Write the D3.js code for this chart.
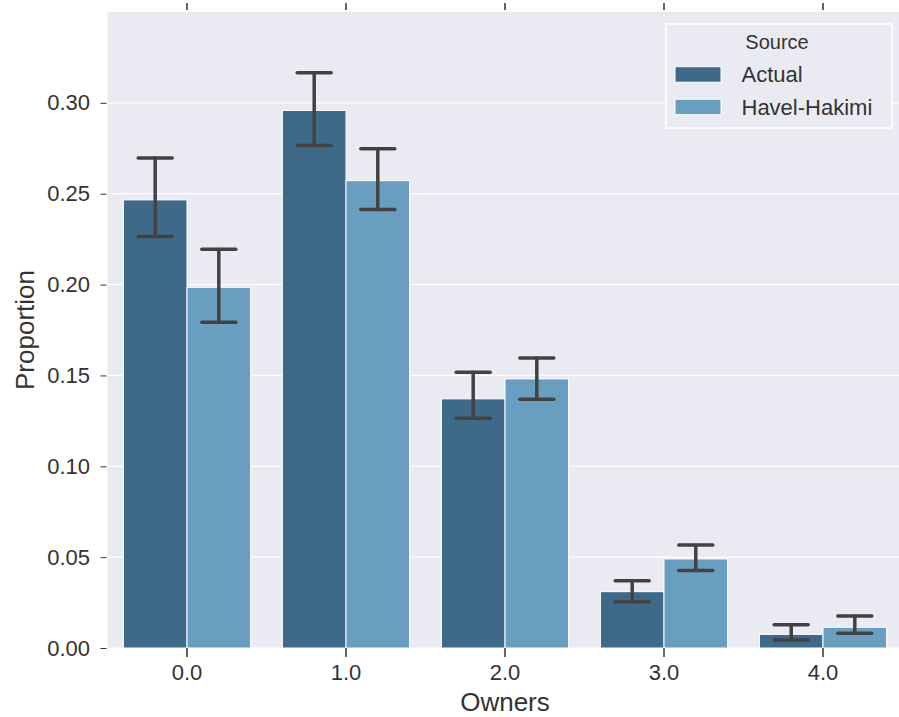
<!DOCTYPE html>
<html>
<head>
<meta charset="utf-8">
<script src="https://cdn.jsdelivr.net/npm/d3@7"></script>
<style>
  body { margin: 0; background: #fff; }
  text { font-family: "Liberation Sans", Arial, sans-serif; fill: #333; }
</style>
</head>
<body>
<svg id="chart" width="899" height="717"></svg>
<script>
// categories and series
var owners = ["0.0", "1.0", "2.0", "3.0", "4.0"];
var sources = ["Actual", "Havel-Hakimi"];
var actualVals = [0.2466, 0.2958, 0.1371, 0.0310, 0.0075];
var actualLo   = [0.2264, 0.2765, 0.1264, 0.0255, 0.0044];
var actualHi   = [0.2696, 0.3165, 0.1518, 0.0370, 0.0128];
var havelVals  = [0.1985, 0.2572, 0.1481, 0.0490, 0.0114];
var havelLo    = [0.1793, 0.2413, 0.1369, 0.0426, 0.0081];
var havelHi    = [0.2195, 0.2748, 0.1596, 0.0567, 0.0176];
var yTicks = [0, 0.05, 0.10, 0.15, 0.20, 0.25, 0.30];
var colors = ["#3f6988", "#6a9ec1"];

// margins so plot covers x 107..903, y 12..648
var margin = {top: 12, left: 107.5};
var plotW = 795, plotH = 636;

var svg = d3.select("#chart");
var g = svg.append("g").attr("transform", "translate(" + margin.left + "," + margin.top + ")");

var x = d3.scaleBand().domain(owners).range([0, plotW]).paddingInner(0.2).paddingOuter(0.1);
var xSub = d3.scaleBand().domain(sources).range([0, x.bandwidth()]);
var y = d3.scaleLinear().domain([0, 0.35]).range([plotH, 0]);

// background
g.append("rect").attr("width", plotW).attr("height", plotH).attr("fill", "#eaeaf2");

// horizontal grid
g.selectAll(".grid").data(yTicks).enter().append("line")
    .attr("x1", 0).attr("x2", plotW)
    .attr("y1", function(d) { return y(d); }).attr("y2", function(d) { return y(d); })
    .attr("stroke", "#fff").attr("stroke-width", 1.2);

// build rows for bars
var rows = [];
owners.forEach(function(o, i) {
    rows.push({owner: o, src: "Actual", v: actualVals[i], lo: actualLo[i], hi: actualHi[i], c: colors[0]});
    rows.push({owner: o, src: "Havel-Hakimi", v: havelVals[i], lo: havelLo[i], hi: havelHi[i], c: colors[1]});
});

g.selectAll(".bar").data(rows).enter().append("rect")
    .attr("x", function(d) { return x(d.owner) + xSub(d.src); })
    .attr("y", function(d) { return y(d.v); })
    .attr("width", xSub.bandwidth())
    .attr("height", function(d) { return plotH - y(d.v); })
    .attr("fill", function(d) { return d.c; })
    .attr("stroke", "#fff").attr("stroke-width", 1);

// error bars
var capW = 34;
var err = g.selectAll(".err").data(rows).enter().append("g")
    .attr("transform", function(d) { return "translate(" + (x(d.owner) + xSub(d.src) + xSub.bandwidth() / 2) + ",0)"; });
err.append("line").attr("x1", 0).attr("x2", 0)
    .attr("y1", function(d) { return y(d.lo); }).attr("y2", function(d) { return y(d.hi); });
err.append("line").attr("x1", -capW / 2).attr("x2", capW / 2)
    .attr("y1", function(d) { return y(d.lo); }).attr("y2", function(d) { return y(d.lo); });
err.append("line").attr("x1", -capW / 2).attr("x2", capW / 2)
    .attr("y1", function(d) { return y(d.hi); }).attr("y2", function(d) { return y(d.hi); });
err.selectAll("line").attr("stroke", "#424242").attr("stroke-width", 3.5).attr("stroke-linecap", "round");

// axes
var yAxis = d3.axisLeft(y).tickValues(yTicks).tickFormat(d3.format(".2f")).tickSize(6).tickPadding(11.5);
var yg = g.append("g").call(yAxis);
yg.select(".domain").remove();
yg.selectAll("line").attr("stroke", "#333").attr("transform", "translate(-1,0)");
yg.selectAll("text").attr("font-size", 22).style("fill", "#333");

var xAxis = d3.axisBottom(x).tickSize(9).tickPadding(7);
var xg = g.append("g").attr("transform", "translate(0," + plotH + ")").call(xAxis);
xg.select(".domain").remove();
xg.selectAll("line").attr("stroke", "#333").attr("stroke-width", 1.5);
xg.selectAll("text").attr("font-size", 22).style("fill", "#333");

// top ticks
var xTop = d3.axisTop(x).tickSize(7).tickFormat("");
var tg = g.append("g").attr("transform", "translate(0,-2)").call(xTop);
tg.select(".domain").remove();
tg.selectAll("line").attr("stroke", "#333").attr("stroke-width", 1.5);

// axis labels
svg.append("text").attr("x", 505).attr("y", 711)
    .attr("text-anchor", "middle").attr("font-size", 26).text("Owners");
svg.append("text").attr("transform", "translate(34," + (margin.top + plotH / 2) + ") rotate(-90)")
    .attr("text-anchor", "middle").attr("font-size", 26).text("Proportion");

// legend
var lg = svg.append("g").attr("transform", "translate(666,24)");
lg.append("rect").attr("width", 226).attr("height", 104)
    .attr("fill", "#eaeaf2").attr("stroke", "#fff").attr("stroke-width", 1.5);
lg.append("text").attr("x", 111).attr("y", 25.3).attr("text-anchor", "middle")
    .attr("font-size", 20).text("Source");
sources.forEach(function(s, i) {
    lg.append("rect").attr("x", 9).attr("y", 42.7 + i * 32.5).attr("width", 46).attr("height", 15.5)
        .attr("fill", colors[i]).attr("stroke", "#fff").attr("stroke-width", 1);
    lg.append("text").attr("x", 75.5).attr("y", 57.7 + i * 33).attr("font-size", 22).text(s);
});
</script>
</body>
</html>
